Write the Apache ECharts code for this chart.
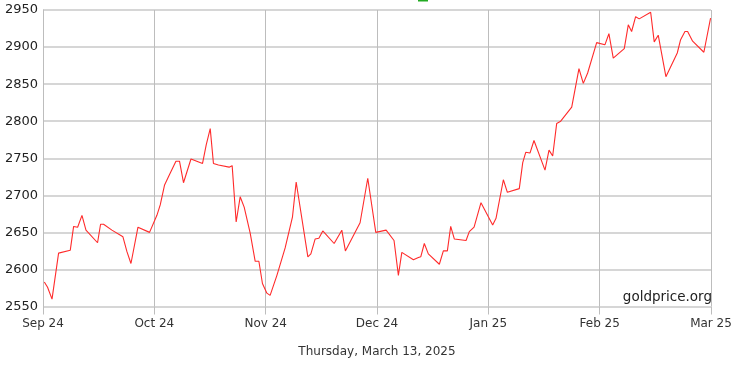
<!DOCTYPE html>
<html>
<head>
<meta charset="utf-8">
<script src="https://cdn.jsdelivr.net/npm/echarts@6/dist/echarts.min.js"></script>
<style>
html,body{margin:0;padding:0;background:#fff;}
#chart{width:742px;height:369px;}
</style>
</head>
<body>
<div id="chart"></div>
<script>
// x position in months from the first labelled tick (0 = Sep 24 ... 6 = Mar 25)
var monthPos = [0.012,0.041,0.081,0.140,0.245,0.275,0.311,0.350,0.386,0.490,0.517,0.544,0.619,0.718,0.754,0.790,0.853,0.957,
  1.023,1.053,1.092,1.127,1.194,1.226,1.262,1.329,1.433,1.466,1.502,1.531,1.576,1.672,1.699,1.735,1.771,1.807,1.861,1.906,1.939,1.971,
  2.011,2.040,2.101,2.175,2.241,2.274,2.379,2.406,2.444,2.478,2.513,2.615,2.684,2.716,2.848,2.917,2.989,
  3.082,3.153,3.192,3.223,3.327,3.372,3.393,3.425,3.461,3.560,3.596,3.632,3.662,3.695,3.800,3.829,3.872,3.934,
  4.039,4.069,4.135,4.171,4.278,4.309,4.336,4.374,4.410,4.509,4.545,4.578,4.614,4.650,4.749,4.814,4.853,4.892,4.973,
  5.047,5.083,5.122,5.221,5.257,5.287,5.323,5.355,5.458,5.490,5.526,5.595,5.697,5.727,5.766,5.790,5.835,5.936,5.996];
var price = [2583,2576,2560,2622,2626,2658,2657,2673,2653,2636,2661,2661,2653,2644,2624,2608,2657,2650,
  2673,2687,2714,2725,2746,2746,2717,2749,2743,2768,2790,2743,2741,2738,2740,2664,2698,2684,2649,2611,2611,2581,
  2568,2565,2592,2629,2671,2718,2617,2621,2641,2642,2652,2635,2653,2625,2663,2723,2650,
  2653,2639,2592,2623,2613,2616,2617,2635,2621,2607,2625,2625,2658,2641,2639,2651,2657,2690,
  2660,2669,2721,2704,2709,2744,2758,2757,2774,2734,2761,2753,2797,2800,2819,2871,2851,2865,2906,
  2903,2918,2885,2898,2930,2921,2941,2938,2947,2907,2916,2860,2892,2910,2921,2921,2908,2893,2939];
var monthLabels = ['Sep 24','Oct 24','Nov 24','Dec 24','Jan 25','Feb 25','Mar 25'];
var yMin = 2550, yMax = 2950, yStep = 50;
var dateText = 'Thursday, March 13, 2025';
var sourceText = 'goldprice.org';

var seriesData = monthPos.map(function(m, i){ return [m, price[i]]; });
var chart = echarts.init(document.getElementById('chart'), null, {renderer:'canvas'});
var font = 'DejaVu Sans';
chart.setOption({
  animation:false,
  backgroundColor:'#ffffff',
  grid:{left:43, right:31, top:10, bottom:62.5, containLabel:false},
  xAxis:{
    type:'value', min:0, max:monthLabels.length-1, interval:1,
    axisLine:{show:false},
    axisTick:{show:true, length:8, lineStyle:{color:'#bdbdbd', width:1}},
    splitLine:{show:true, lineStyle:{color:'#bdbdbd', width:1}},
    axisLabel:{margin:11, color:'#333', fontFamily:font, fontSize:12,
      formatter:function(v){ return monthLabels[Math.round(v)] || ''; }}
  },
  yAxis:{
    type:'value', min:yMin, max:yMax, interval:yStep,
    axisLine:{show:true, lineStyle:{color:'#bdbdbd', width:1}},
    axisTick:{show:false},
    splitLine:{show:true, lineStyle:{color:'#d6d6d6', width:2}},
    axisLabel:{margin:5, color:'#222', fontFamily:font, fontSize:13,
      formatter:function(v){ return String(v); }}
  },
  series:[{
    type:'line', data:seriesData, symbol:'none', smooth:false,
    lineStyle:{color:'#ff2b2b', width:1.1},
    z:3
  }],
  graphic:[
    {type:'rect', left:418, top:-4, shape:{width:10, height:5.5}, style:{fill:'#22aa22'}},
    {type:'text', right:30, top:290, z:10, style:{text:sourceText, fill:'#222', font:'13.5px "DejaVu Sans"'}},
    {type:'text', x:377, y:346, z:10, style:{text:dateText, fill:'#333', font:'12px "DejaVu Sans"', textAlign:'center'}}
  ]
});
</script>
</body>
</html>
